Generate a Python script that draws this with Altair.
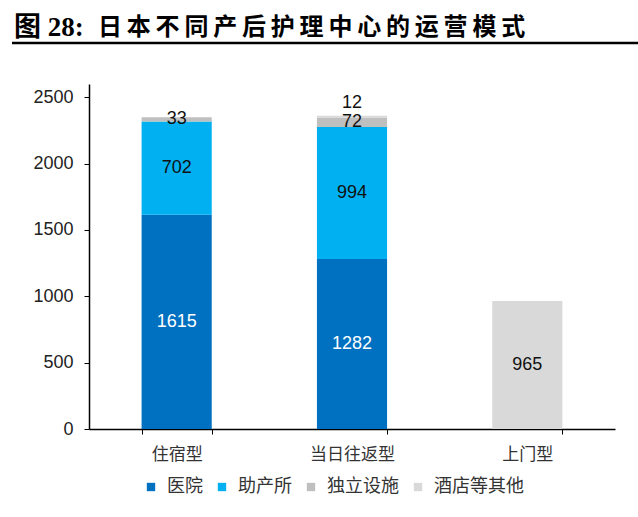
import altair as alt
import pandas as pd

categories = ["住宿型", "当日往返型", "上门型"]
series = ["医院", "助产所", "独立设施", "酒店等其他"]
values = {
    "医院": [1615, 1282, 0],
    "助产所": [702, 994, 0],
    "独立设施": [33, 72, 0],
    "酒店等其他": [0, 12, 965],
}
colors = ["#0070C0", "#00B0F0", "#BFBFBF", "#D9D9D9"]
title_prefix = "图 28:"
title_main = "日本不同产后护理中心的运营模式"

rows = []
for si, s in enumerate(series):
    for ci, c in enumerate(categories):
        rows.append({"cat": c, "series": s, "order": si, "value": values[s][ci]})
df = pd.DataFrame(rows)

base = alt.Chart(df).transform_filter("datum.value > 0").transform_stack(
    stack="value", groupby=["cat"], as_=["y0", "y1"], sort=[alt.SortField("order")]
).transform_calculate(mid="(datum.y0 + datum.y1) / 2")

xenc = alt.X("cat:N", sort=categories, title=None,
             scale=alt.Scale(paddingInner=0.6, paddingOuter=0.3),
             axis=alt.Axis(labelAngle=0, labelFont="Noto Sans CJK SC", labelFontSize=17,
                           labelColor="#333333", labelPadding=12, domainColor="#000000",
                           tickColor="#000000", tickSize=5, tickBand="extent",
                           domainWidth=1.5))

bars = base.mark_bar().encode(
    x=xenc,
    y=alt.Y("y0:Q", title=None, scale=alt.Scale(domain=[0, 2500]),
            axis=alt.Axis(values=[0, 500, 1000, 1500, 2000, 2500], grid=False, format="d",
                          labelFont="Arial", labelFontSize=18, labelColor="#222222",
                          domainColor="#000000", tickColor="#000000", tickSize=5,
                          labelPadding=11, domainWidth=1.5)),
    y2="y1:Q",
    color=alt.Color("series:N", sort=series,
                    scale=alt.Scale(domain=series, range=colors),
                    legend=alt.Legend(title=None, orient="none", direction="horizontal",
                                      legendX=53, legendY=394,
                                      symbolType="square", symbolSize=70,
                                      symbolStrokeWidth=0, labelFont="Noto Sans CJK SC",
                                      labelFontSize=18, labelColor="#333333",
                                      columnPadding=10, labelOffset=7)),
)

labels = base.transform_filter("datum.value >= 20").mark_text(
    font="Arial", fontSize=18
).encode(
    x=alt.X("cat:N", sort=categories),
    y=alt.Y("mid:Q"),
    text=alt.Text("value:Q"),
    color=alt.condition("datum.series == '医院'", alt.value("white"), alt.value("#111111")),
)

small = base.transform_filter("datum.value < 20").mark_text(
    font="Arial", fontSize=18, dy=-13
).encode(
    x=alt.X("cat:N", sort=categories),
    y=alt.Y("y1:Q"),
    text=alt.Text("value:Q"),
    color=alt.value("#111111"),
)

title1 = alt.Chart(pd.DataFrame({"t": [title_prefix]})).mark_text(
    font="Liberation Serif, Noto Sans CJK SC", fontSize=27, fontWeight="bold", align="left",
    baseline="middle", color="#000000"
).encode(x=alt.value(-75), y=alt.value(-56), text="t:N")

title2 = alt.Chart(pd.DataFrame({"t": ["\u2009".join(title_main)]})).mark_text(
    font="Noto Sans CJK SC", fontSize=24, fontWeight="bold", align="left",
    baseline="middle", color="#000000"
).encode(x=alt.value(9), y=alt.value(-56), text="t:N")

underline = alt.Chart(pd.DataFrame({"a": [0]})).mark_rule(
    color="#000000", strokeWidth=2.5
).encode(x=alt.value(-77), x2=alt.value(560), y=alt.value(-41))

chart = alt.layer(bars, labels, small, title1, title2, underline).properties(
    width=526, height=345, background="white",
    autosize=alt.AutoSizeParams(type="none"),
    padding={"left": 89, "top": 84, "right": 23, "bottom": 88},
).configure_view(strokeWidth=0, stroke=None)

chart.save("out.html", embed_options={"renderer": "svg", "actions": False})
